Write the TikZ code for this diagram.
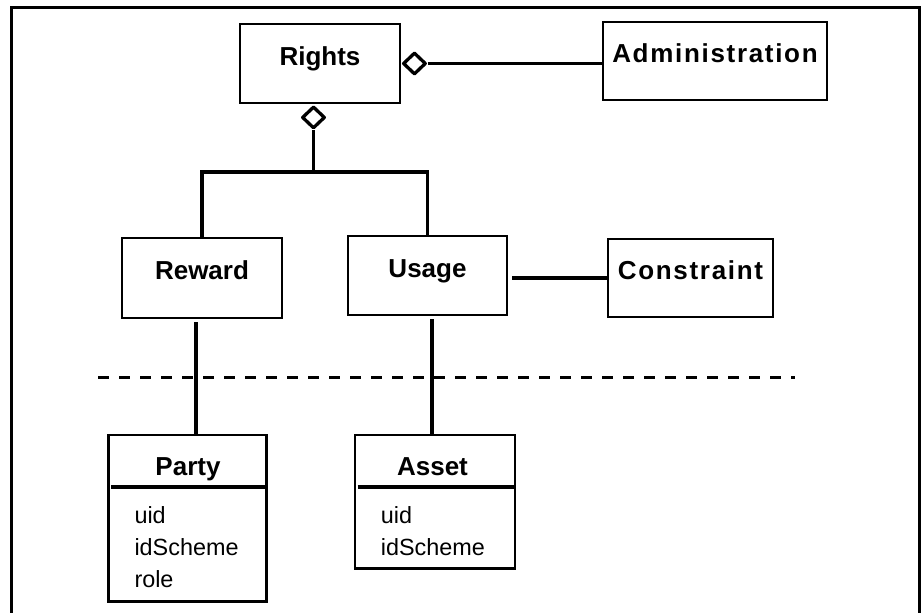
\documentclass[tikz,border=0pt]{standalone}
\usepackage{fontspec}
\setmainfont{Liberation Sans}
\usetikzlibrary{shapes.geometric}
\usetikzlibrary{positioning}

\begin{document}
\begin{tikzpicture}[x=1pt,y=-1pt,
  frame/.style={draw, line width=2.6pt, inner sep=0pt},
  box/.style={frame, text height=16pt, text depth=13pt, font=\fontsize{26}{30}\selectfont\bfseries},
  wide/.style={font=\fontsize{26}{30}\selectfont\bfseries\addfontfeature{LetterSpace=6.5}},
  conn/.style={line width=3.7pt},
  aggmark/.style={diamond, draw, fill=white, line width=3.3pt, line join=round, inner sep=0pt, minimum width=23pt, minimum height=22pt},
  sep/.style={line width=3.7pt},
  title/.style={font=\fontsize{26}{30}\selectfont\bfseries, anchor=base, inner sep=0pt},
  attr/.style={font=\fontsize{23.4}{28}\selectfont, anchor=base west, inner sep=0pt}]
\useasboundingbox (0,0) rectangle (921,613);

% outer frame
\draw[line width=3pt] (11.5,613) -- (11.5,7) -- (919.5,7) -- (919.5,613);

% top classes
\node[box, minimum width=160pt, minimum height=79pt] (rights) at (320,63.5) {Rights};
\node[box, wide, minimum width=224pt, minimum height=78pt] (admin) at (715,61) {Administration};

% middle classes
\node[box, minimum width=160pt, minimum height=80pt] (reward) at (202,278) {Reward};
\node[box, minimum width=159pt, minimum height=79pt] (usage) at (427.5,275.5) {Usage};
\node[box, wide, minimum width=165pt, minimum height=78pt] (constraint) at (690.5,278) {Constraint};

% bottom classes
\node[frame, minimum width=158.4pt, minimum height=166.7pt] (party) at (187.5,518.3) {};
\node[title] (partyname) at (188,475) {Party};
\draw[sep] ([shift={(4,53)}]party.north west) -- ([shift={(0,53)}]party.north east);
\node[attr] (partyuid) at (134.3,523.5) {uid};
\node[attr] (partyscheme) at (134.3,555.5) {idScheme};
\node[attr] (partyrole) at (134.3,587.5) {role};

\node[frame, minimum width=160pt, minimum height=133.3pt] (asset) at (435,501.7) {};
\node[title] (assetname) at (432.5,475) {Asset};
\draw[sep] ([shift={(4,53)}]asset.north west) -- ([shift={(0,53)}]asset.north east);
\node[attr] (assetuid) at (380.7,523.5) {uid};
\node[attr] (assetscheme) at (380.7,555.5) {idScheme};

% aggregations
\node[aggmark, right=0pt of rights.east] (rightsside) {};
\node[aggmark, below=0.5pt of rights.south, xshift=-6.5pt] (rightsdown) {};
\coordinate (fork) at (313.5,172);
\draw[conn] (rightsdown.south) -- (fork);
\draw[conn] (reward.north) |- (fork) -| (usage.north);
\draw[conn] (rightsside.east) -- (rightsside.east -| admin.west);

% associations
\draw[conn, shorten <=4pt] (usage.east |- constraint.west) -- (constraint.west);
\draw[conn, shorten <=3pt] ([xshift=-6pt]reward.south) coordinate (rewardfoot) -- (rewardfoot |- party.north);
\draw[conn, shorten <=3pt] ([xshift=4.8pt]usage.south) coordinate (usagefoot) -- (usagefoot |- asset.north);

% boundary
\draw[line width=2.5pt, dash pattern=on 11pt off 10pt] (98,377.5) -- (795,377.5);

\end{tikzpicture}
\end{document}
